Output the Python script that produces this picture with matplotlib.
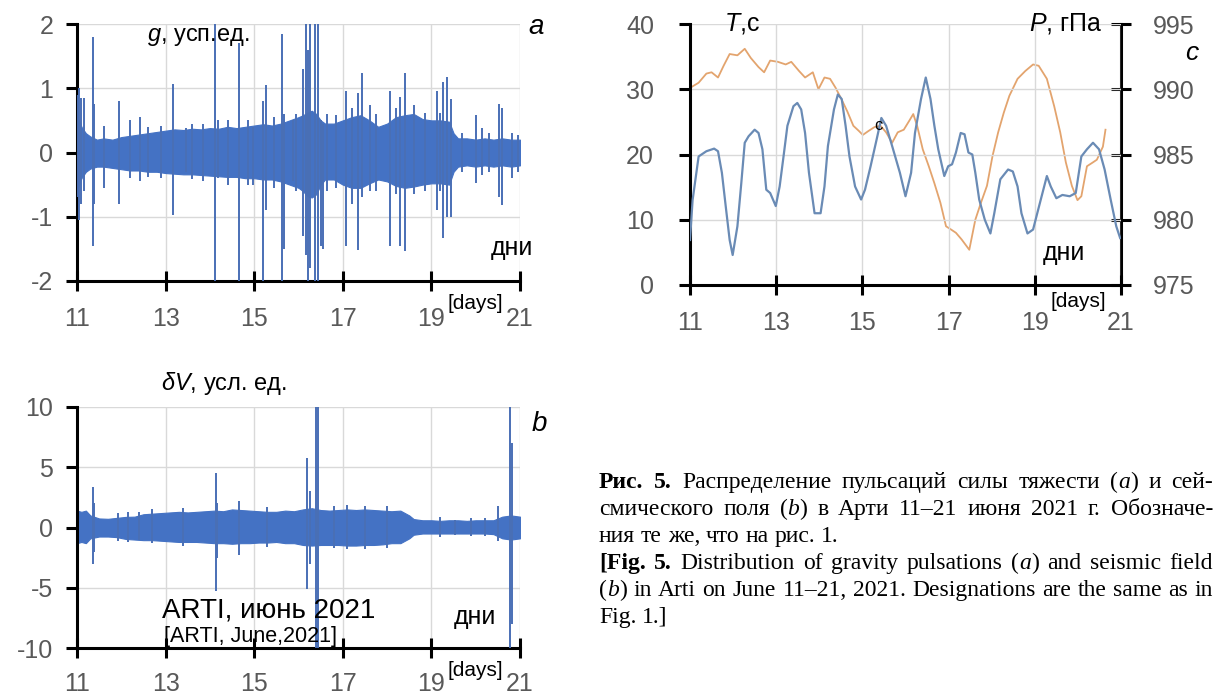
import re
import matplotlib
matplotlib.use('Agg')
import matplotlib.pyplot as plt

# ---- panel a: gravity pulsations g, conventional units ----
a_env_days = [11.0, 11.05, 11.1, 11.2, 11.3, 11.45, 11.6, 11.8, 12.0, 12.2, 12.4, 12.6, 12.8,
              13.0, 13.2, 13.4, 13.6, 13.8, 14.0, 14.2, 14.4, 14.6, 14.8, 15.0, 15.2, 15.4,
              15.6, 15.8, 16.0, 16.1, 16.2, 16.3, 16.4, 16.5, 16.6, 16.8, 17.0, 17.2, 17.4,
              17.6, 17.8, 18.0, 18.2, 18.4, 18.6, 18.8, 19.0, 19.2, 19.4, 19.5, 19.6, 19.8,
              20.0, 20.2, 20.4, 20.6, 20.8, 21.0]
a_env_upper = [0.55, 0.5, 0.4, 0.3, 0.25, 0.2, 0.22, 0.2, 0.24, 0.26, 0.28, 0.3, 0.32,
               0.34, 0.36, 0.35, 0.37, 0.36, 0.38, 0.37, 0.4, 0.38, 0.4, 0.42, 0.44, 0.42,
               0.45, 0.5, 0.55, 0.58, 0.62, 0.65, 0.6, 0.5, 0.45, 0.45, 0.5, 0.55, 0.58,
               0.5, 0.4, 0.45, 0.55, 0.58, 0.6, 0.52, 0.5, 0.5, 0.48, 0.3, 0.22, 0.22,
               0.2, 0.22, 0.2, 0.22, 0.2, 0.2]
a_env_lower = [-0.6, -0.5, -0.4, -0.3, -0.25, -0.22, -0.22, -0.24, -0.26, -0.28, -0.28, -0.3, -0.3,
               -0.32, -0.33, -0.34, -0.34, -0.35, -0.36, -0.37, -0.38, -0.38, -0.4, -0.4, -0.42, -0.42,
               -0.45, -0.5, -0.55, -0.6, -0.68, -0.7, -0.65, -0.5, -0.42, -0.42, -0.5, -0.55, -0.55,
               -0.48, -0.42, -0.45, -0.52, -0.55, -0.53, -0.5, -0.48, -0.48, -0.5, -0.3, -0.22, -0.2,
               -0.22, -0.2, -0.22, -0.2, -0.22, -0.2]
a_spike_days = [11.02, 11.05, 11.1, 11.15, 11.35, 11.39, 11.6, 11.94, 12.2, 12.42, 12.6, 12.9,
                13.17, 13.47, 13.6, 13.85, 14.12, 14.18, 14.4, 14.65, 14.85, 14.97, 15.2, 15.26,
                15.45, 15.63, 15.68, 15.87, 15.95, 16.1, 16.16, 16.21, 16.26, 16.38, 16.43, 16.5,
                16.56, 16.65, 16.85, 17.07, 17.2, 17.34, 17.43, 17.62, 17.75, 18.07, 18.2, 18.3,
                18.41, 18.6, 18.85, 19.13, 19.2, 19.27, 19.36, 19.45, 19.7, 20.01, 20.15, 20.3,
                20.52, 20.6, 20.83, 20.95]
a_spike_top = [0.9, 1.0, 0.85, 0.85, 1.8, 0.75, 0.42, 0.8, 0.5, 0.55, 0.4, 0.42,
               1.07, 0.38, 0.45, 0.45, 2.5, 0.5, 0.5, 1.7, 0.5, 0.4, 0.8, 1.05,
               0.55, 1.85, 0.6, 0.5, 0.6, 1.3, 2.5, 1.6, 2.5, 2.5, 2.5, 0.5,
               0.45, 0.6, 0.58, 0.95, 0.7, 0.92, 1.23, 0.74, 0.6, 0.95, 0.7, 0.87,
               1.23, 0.74, 0.62, 0.95, 0.62, 1.1, 1.18, 0.84, 0.3, 0.59, 0.38, 0.3,
               0.75, 0.7, 0.3, 0.28]
a_spike_bottom = [-0.7, -1.05, -0.8, -0.6, -1.45, -0.8, -0.55, -0.8, -0.4, -0.45, -0.38, -0.4,
                  -0.98, -0.3, -0.42, -0.45, -2.5, -0.4, -0.5, -2.5, -0.5, -0.5, -2.5, -0.9,
                  -0.55, -2.5, -1.5, -0.45, -0.6, -1.3, -1.6, -2.5, -1.8, -2.5, -2.5, -1.46,
                  -1.5, -0.6, -0.55, -1.46, -0.8, -1.51, -0.7, -0.6, -0.6, -1.46, -0.65, -1.46,
                  -1.54, -0.65, -0.6, -0.89, -0.6, -1.33, -1.0, -1.0, -0.3, -0.48, -0.35, -0.3,
                  -0.7, -0.82, -0.4, -0.3]

# ---- panel b: seismic field dV, conventional units ----
b_env_days = [11.0, 11.1, 11.2, 11.3, 11.5, 11.7, 11.9, 12.1, 12.3, 12.5, 12.7, 12.9,
              13.1, 13.3, 13.5, 13.7, 13.9, 14.1, 14.3, 14.5, 14.7, 14.9, 15.1, 15.3,
              15.5, 15.7, 15.9, 16.1, 16.3, 16.5, 16.7, 16.9, 17.1, 17.3, 17.5, 17.7,
              17.9, 18.1, 18.3, 18.5, 18.6, 18.8, 19.0, 19.2, 19.4, 19.6, 19.8, 20.0,
              20.2, 20.4, 20.6, 20.8, 21.0]
b_env_upper = [1.4, 1.3, 1.4, 1.0, 0.75, 0.72, 0.8, 0.88, 0.9, 1.1, 1.15, 1.2,
               1.25, 1.3, 1.25, 1.3, 1.35, 1.4, 1.35, 1.5, 1.45, 1.4, 1.35, 1.3,
               1.3, 1.4, 1.35, 1.5, 1.6, 1.45, 1.4, 1.45, 1.5, 1.45, 1.5, 1.45,
               1.4, 1.35, 1.4, 1.0, 0.7, 0.6, 0.6, 0.55, 0.6, 0.6, 0.55, 0.6,
               0.6, 0.6, 0.9, 1.0, 0.9]
b_env_lower = [-1.3, -1.2, -1.3, -0.9, -0.75, -0.75, -0.8, -0.95, -1.0, -1.05, -1.05, -1.1,
               -1.15, -1.2, -1.2, -1.2, -1.25, -1.3, -1.3, -1.35, -1.3, -1.3, -1.25, -1.25,
               -1.2, -1.3, -1.3, -1.45, -1.5, -1.45, -1.45, -1.45, -1.5, -1.5, -1.45, -1.45,
               -1.4, -1.3, -1.3, -0.9, -0.6, -0.5, -0.5, -0.5, -0.5, -0.5, -0.5, -0.5,
               -0.5, -0.55, -0.9, -1.0, -0.9]
b_spike_days = [11.35, 11.38, 11.93, 12.15, 12.4, 12.7, 13.4, 14.13, 14.16, 14.65, 15.3,
                16.2, 16.25, 16.4, 16.44, 16.8, 17.1, 17.5, 18.0, 19.2, 19.53, 19.9,
                20.2, 20.5, 20.78, 20.82]
b_spike_top = [3.4, 2.0, 1.2, 1.3, 1.3, 1.5, 1.6, 4.5, 2.0, 2.2, 1.7,
               5.8, 3.0, 11, 11, 1.8, 1.9, 1.8, 1.8, 0.9, 0.6, 0.8,
               0.8, 1.8, 11, 7.0]
b_spike_bottom = [-3.0, -2.0, -1.1, -1.2, -1.0, -1.3, -1.5, -5.3, -2.5, -2.3, -1.6,
                  -5.1, -3.0, -10.5, -11, -1.7, -1.8, -1.8, -1.7, -0.8, -0.6, -0.7,
                  -0.7, -1.1, -11, -8.0]

# ---- panel c: period T (s) and pressure P (hPa) ----
c_t_days = [11.0, 11.06, 11.2, 11.38, 11.56, 11.65, 11.74, 11.83, 11.92, 11.99, 12.1, 12.19,
            12.27, 12.36, 12.5, 12.59, 12.68, 12.77, 12.86, 12.99, 13.08, 13.17, 13.26, 13.4,
            13.49, 13.58, 13.67, 13.76, 13.89, 14.03, 14.12, 14.2, 14.34, 14.43, 14.52, 14.61,
            14.7, 14.83, 14.97, 15.06, 15.19, 15.33, 15.44, 15.55, 15.69, 15.87, 16.0, 16.13,
            16.22, 16.36, 16.47, 16.58, 16.67, 16.76, 16.9, 16.99, 17.08, 17.17, 17.28, 17.37,
            17.46, 17.55, 17.62, 17.71, 17.84, 17.97, 18.06, 18.2, 18.38, 18.49, 18.6, 18.69,
            18.83, 18.96, 19.1, 19.28, 19.37, 19.5, 19.64, 19.81, 19.95, 20.08, 20.21, 20.35,
            20.49, 20.62, 20.76, 20.89, 20.98]
c_t_values = [6.9, 13, 19.7, 20.5, 20.9, 20.5, 17.2, 12, 6.9, 4.6, 9, 15.6,
              21.8, 22.8, 23.8, 23.3, 20.8, 14.6, 14.1, 12.1, 15.1, 19.7, 24.4, 27.4,
              27.9, 26.9, 23.3, 17.2, 11, 11, 15.1, 21.3, 26.9, 29.2, 28.5, 24.4,
              19.7, 15.1, 13.1, 14.6, 18.2, 22.3, 25.6, 24.4, 21.3, 17.2, 13.6, 17.2,
              23.3, 28.5, 31.8, 28.5, 24.4, 20.8, 16.7, 18.2, 18.5, 20.3, 23.3, 23.1,
              20.3, 20, 17.2, 13.1, 10, 7.9, 11, 16.2, 17.7, 17.4, 15.1, 11,
              7.9, 8.5, 12.1, 16.7, 15.1, 13.3, 13.8, 13.6, 14.1, 19.7, 20.8, 21.8,
              20.8, 17.7, 13.1, 9, 7.2]
c_p_days = [11.0, 11.2, 11.38, 11.5, 11.65, 11.78, 11.92, 12.1, 12.27, 12.41, 12.59, 12.72,
            12.86, 13.04, 13.22, 13.35, 13.53, 13.67, 13.85, 13.98, 14.12, 14.25, 14.38, 14.52,
            14.65, 14.79, 14.92, 15.01, 15.14, 15.28, 15.42, 15.55, 15.69, 15.82, 15.96, 16.09,
            16.18, 16.27, 16.4, 16.54, 16.67, 16.81, 16.94, 17.08, 17.17, 17.3, 17.48, 17.62,
            17.75, 17.89, 18.02, 18.15, 18.28, 18.41, 18.6, 18.78, 18.96, 19.09, 19.28, 19.45,
            19.59, 19.72, 19.86, 19.99, 20.08, 20.21, 20.35, 20.44, 20.58, 20.64]
c_p_values = [990.1, 990.5, 991.2, 991.3, 990.9, 991.8, 992.7, 992.6, 993.1, 992.4, 991.7, 991.3,
              992.2, 992.1, 991.9, 992.1, 991.4, 990.9, 991.3, 990.0, 990.9, 990.8, 990.1, 989.2,
              988.3, 987.2, 986.8, 986.5, 986.8, 987.1, 987.2, 986.7, 985.9, 986.7, 986.9, 987.6,
              988.1, 987.2, 985.4, 984.1, 982.8, 981.3, 979.5, 979.2, 979.0, 978.5, 977.7, 980.0,
              981.3, 982.6, 984.9, 986.7, 988.2, 989.5, 990.8, 991.4, 991.9, 991.8, 990.8, 988.7,
              986.7, 984.4, 982.6, 981.5, 981.8, 984.1, 984.4, 984.6, 985.6, 986.9]

day_ticks = [11, 13, 15, 17, 19, 21]

caption_lines = [
    "<b>Рис. 5.</b> Распределение пульсаций силы тяжести (<i>a</i>) и сей-",
    "смического поля (<i>b</i>) в Арти 11–21 июня 2021 г. Обозначе-",
    "ния те же, что на рис. 1.",
    "<b>[Fig. 5.</b> Distribution of gravity pulsations (<i>a</i>) and seismic field",
    "(<i>b</i>) in Arti on June 11–21, 2021. Designations are the same as in",
    "Fig. 1.]",
]
caption_justify = [True, True, False, True, True, False]

plt.rcParams['axes.unicode_minus'] = False
plt.rcParams['mathtext.fontset'] = 'custom'
plt.rcParams['mathtext.rm'] = 'Liberation Sans'
plt.rcParams['mathtext.it'] = 'Liberation Sans:italic'

W, H = 1215, 700
TICK_FONT = ['Liberation Sans Narrow', 'Liberation Sans', 'DejaVu Sans']
LABEL_FONT = ['Liberation Sans', 'DejaVu Sans']
TICK_COLOR = '#595959'
BLUE = '#4472C4'

fig = plt.figure(figsize=(W / 100, H / 100), dpi=100)


def box(left, right, top, bottom):
    return fig.add_axes([left / W, 1 - bottom / H, (right - left) / W, (bottom - top) / H])


def style_axes(ax, ylim, yticks, ypad, xpad):
    ax.set_xlim(11, 21)
    ax.set_ylim(*ylim)
    ax.set_xticks(day_ticks)
    ax.set_yticks(yticks)
    ax.grid(True, color='#D9D9D9', lw=1)
    ax.set_axisbelow(True)
    for side in ('top', 'right'):
        ax.spines[side].set_visible(False)
    for side in ('left', 'bottom'):
        ax.spines[side].set_linewidth(2.2)
        ax.spines[side].set_color('black')
    ax.tick_params(axis='x', direction='inout', length=14, width=2.2, pad=xpad,
                   labelsize=18, labelcolor=TICK_COLOR)
    ax.tick_params(axis='y', direction='out', length=8, width=2.2, pad=ypad,
                   labelsize=18, labelcolor=TICK_COLOR)
    for lab in ax.get_xticklabels() + ax.get_yticklabels():
        lab.set_family(TICK_FONT)


def draw_noise(ax, days, lower, upper, sdays, sbottom, stop):
    ax.fill_between(days, lower, upper, color=BLUE, lw=0.8, zorder=2)
    ax.vlines(sdays, sbottom, stop, color='#4A6FB5', lw=1.4, zorder=3)


# panel a
ax_a = box(77, 520, 24, 281)
style_axes(ax_a, (-2, 2), [-2, -1, 0, 1, 2], 9, 12)
draw_noise(ax_a, a_env_days, a_env_lower, a_env_upper, a_spike_days, a_spike_bottom, a_spike_top)
ax_a.text(12.57, 1.79, '$g$, усп.ед.', fontsize=17, family=LABEL_FONT, va='center', ha='left')
ax_a.text(21.37, 1.95, 'a', fontsize=20, family=LABEL_FONT, style='italic', va='center',
          ha='center', clip_on=False)
ax_a.text(21.3, -1.49, 'дни', fontsize=18, family=LABEL_FONT, va='center', ha='right')
ax_a.text(20.0, -2.35, '[days]', fontsize=15, family=TICK_FONT, va='center', ha='center')

# panel b
ax_b = box(77, 520, 407, 648)
style_axes(ax_b, (-10, 10), [-10, -5, 0, 5, 10], 9, 10)
draw_noise(ax_b, b_env_days, b_env_lower, b_env_upper, b_spike_days, b_spike_bottom, b_spike_top)
ax_b.text(12.89, 11.95, r'$\delta V$, усл. ед.', fontsize=17, family=LABEL_FONT, va='center',
          ha='left', clip_on=False)
ax_b.text(21.43, 8.6, 'b', fontsize=20, family=LABEL_FONT, style='italic', va='center',
          ha='center', clip_on=False)
ax_b.text(12.93, -6.85, 'ARTI, июнь 2021', fontsize=20, family=LABEL_FONT, va='center', ha='left')
ax_b.text(12.97, -9.08, '[ARTI, June,2021]', fontsize=15.5, family=TICK_FONT, va='center', ha='left')
ax_b.text(20.46, -7.4, 'дни', fontsize=18, family=LABEL_FONT, va='center', ha='right')
ax_b.text(20.0, -11.85, '[days]', fontsize=15, family=TICK_FONT, va='center', ha='center')

# panel c
ax_c = box(690, 1121, 24, 285)
style_axes(ax_c, (0, 40), [0, 10, 20, 30, 40], 18, 12)
ax_p = ax_c.twinx()
ax_p.set_ylim(975, 995)
ax_p.set_yticks([975, 980, 985, 990, 995])
for side in ('top', 'left', 'bottom'):
    ax_p.spines[side].set_visible(False)
ax_p.spines['right'].set_linewidth(2.2)
ax_p.tick_params(axis='y', direction='inout', length=14, width=2.2, pad=16,
                 labelsize=18, labelcolor=TICK_COLOR)
for lab in ax_p.get_yticklabels():
    lab.set_family(TICK_FONT)
ax_p.plot(c_p_days, c_p_values, color='#E3A46E', lw=1.3)
ax_c.plot(c_t_days, c_t_values, color='#6A8BB5', lw=1.6, zorder=3)
ax_p.set_zorder(ax_c.get_zorder() - 1)
ax_c.patch.set_visible(False)
ax_c.text(11.78, 40, '$T$,с', fontsize=18, family=LABEL_FONT, va='center', ha='left', clip_on=False)
ax_c.text(18.87, 40, '$P$, гПа', fontsize=18, family=LABEL_FONT, va='center', ha='left', clip_on=False)
ax_c.text(22.65, 35.6, 'c', fontsize=19, family=LABEL_FONT, style='italic', va='center',
          ha='center', clip_on=False)
ax_c.text(15.37, 24.4, 'c', fontsize=12, family=LABEL_FONT, va='center', ha='center')
ax_c.text(20.17, 4.9, 'дни', fontsize=18, family=LABEL_FONT, va='center', ha='right')
ax_c.text(20.0, -2.56, '[days]', fontsize=15, family=TICK_FONT, va='center', ha='center',
          clip_on=False)


# caption with justified lines
def parse_line(line):
    words, cur = [], []
    bold = italic = False
    for tok in re.split(r'(</?[bi]>)', line):
        if tok in ('<b>', '</b>'):
            bold = tok == '<b>'
            continue
        if tok in ('<i>', '</i>'):
            italic = tok == '<i>'
            continue
        for k, part in enumerate(tok.split(' ')):
            if k > 0 and cur:
                words.append(cur)
                cur = []
            if part:
                cur.append((part, bold, italic))
    if cur:
        words.append(cur)
    return words


renderer = fig.canvas.get_renderer()
cap_size = 17
x0, x1 = 599, 1213
for i, (line, just) in enumerate(zip(caption_lines, caption_justify)):
    y = 1 - (488 + 27 * i) / H
    placed = []
    for word in parse_line(line):
        pieces = []
        for s, bold, italic in word:
            t = fig.text(0, y, s, fontsize=cap_size, family='Liberation Serif', va='baseline',
                         fontweight='bold' if bold else 'normal',
                         fontstyle='italic' if italic else 'normal')
            pieces.append((t, t.get_window_extent(renderer).width))
        placed.append(pieces)
    widths = [sum(w for _, w in p) for p in placed]
    if just and len(placed) > 1:
        gap = (x1 - x0 - sum(widths)) / (len(placed) - 1)
    else:
        gap = cap_size * 0.25 * 100 / 72
    x = x0
    for pieces in placed:
        for t, w in pieces:
            t.set_x(x / W)
            x += w
        x += gap

fig.savefig('out.png', dpi=100)
